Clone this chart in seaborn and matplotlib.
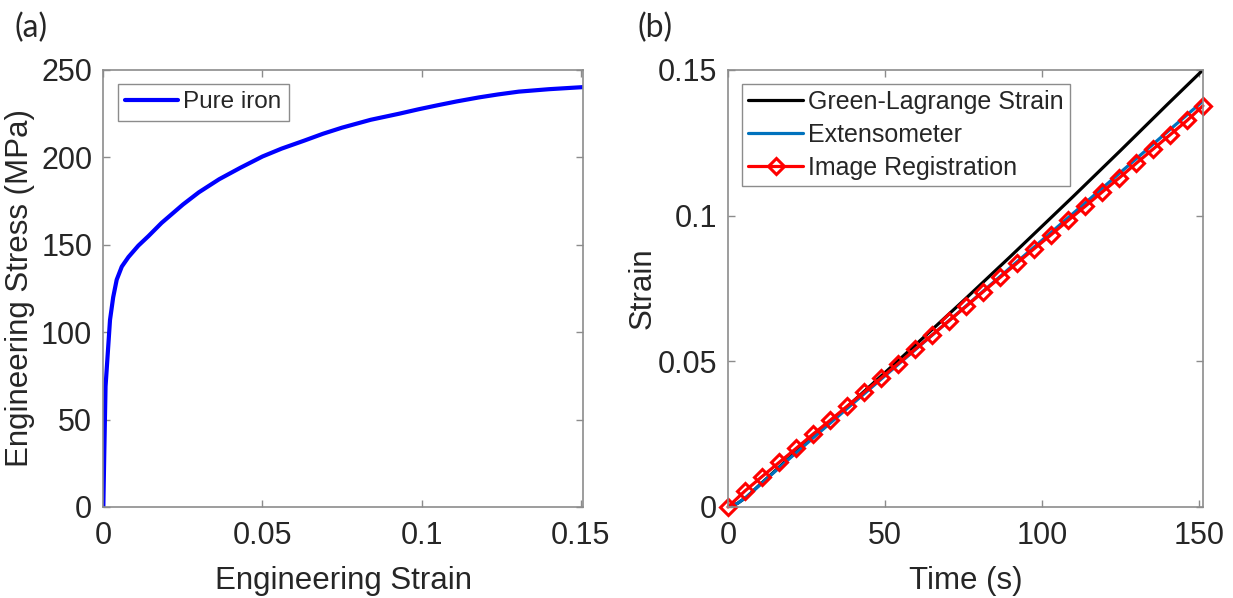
import numpy as np
import pandas as pd
import seaborn as sns
import matplotlib.pyplot as plt

# (a) engineering stress-strain curve of pure iron
eng_strain = [0, 0.0003, 0.0007, 0.0014, 0.0021, 0.0031, 0.0042, 0.0058, 0.0079, 0.011,
              0.0142, 0.0183, 0.025, 0.030, 0.0364, 0.043, 0.050, 0.056, 0.063, 0.069,
              0.075, 0.084, 0.093, 0.099, 0.105, 0.111, 0.118, 0.124, 0.1305, 0.140, 0.1508]
eng_stress = [0, 31, 69, 88, 107, 120, 130, 137.5, 143, 149.5,
              155, 162.5, 173, 180, 187.5, 194, 200.5, 205, 209.5, 213.5,
              217, 221.5, 225, 227.5, 229.8, 232, 234.3, 236, 237.6, 239, 240.2]

# (b) strain vs time
time_ext = [0, 3, 6, 10, 15, 20, 30, 40, 50, 60, 75, 90, 100, 110, 125, 140, 151.3]
extenso = [0, 0.0012, 0.0035, 0.0074, 0.0122, 0.0170, 0.0264, 0.0357, 0.0450, 0.0543,
           0.0682, 0.0822, 0.0915, 0.1008, 0.1148, 0.1288, 0.1393]
green_lag = [0, 0.0012, 0.0035, 0.0075, 0.0124, 0.0173, 0.0268, 0.0364, 0.0461, 0.0559,
             0.0708, 0.0860, 0.0963, 0.1066, 0.1223, 0.1382, 0.1500]

time_img = [0, 5.4, 10.8, 16.3, 21.7, 27.1, 32.5, 37.9, 43.4, 48.8, 54.2, 59.6, 65.0, 70.5,
            75.9, 81.3, 86.7, 92.1, 97.6, 103.0, 108.4, 113.8, 119.2, 124.7, 130.1, 135.5,
            140.9, 146.3, 151.3]
img_reg = [0, 0.0055, 0.0104, 0.0153, 0.0201, 0.0250, 0.0297, 0.0345, 0.0394, 0.0443,
           0.0492, 0.0541, 0.0590, 0.0640, 0.0689, 0.0739, 0.0788, 0.0837, 0.0887, 0.0935,
           0.0984, 0.1032, 0.1081, 0.1130, 0.1180, 0.1229, 0.1278, 0.1327, 0.1377]

xticks_a = [0, 0.05, 0.1, 0.15]
xticklabels_a = ['0', '0.05', '0.1', '0.15']
yticks_a = [0, 50, 100, 150, 200, 250]
xticks_b = [0, 50, 100, 150]
yticks_b = [0, 0.05, 0.1, 0.15]
yticklabels_b = ['0', '0.05', '0.1', '0.15']

sns.set_theme(style="ticks")
plt.rcParams['font.family'] = ['Liberation Sans', 'DejaVu Sans']

fig = plt.figure(figsize=(12.33, 5.98), dpi=100)
ax1 = fig.add_axes([0.0838, 0.1522, 0.3893, 0.7308])
ax2 = fig.add_axes([0.5904, 0.1522, 0.3852, 0.7308])

sns.lineplot(x=eng_strain, y=eng_stress, ax=ax1, color='#0000FF', lw=3,
             sort=False, estimator=None, label='Pure iron')

sns.lineplot(x=time_ext, y=green_lag, ax=ax2, color='black', lw=2.3,
             sort=False, estimator=None, label='Green-Lagrange Strain')
sns.lineplot(x=time_ext, y=extenso, ax=ax2, color='#0072BD', lw=2.3,
             sort=False, estimator=None, label='Extensometer')
sns.lineplot(x=time_img, y=img_reg, ax=ax2, color='red', lw=2.3, marker='D',
             markersize=8.5, markerfacecolor='none', markeredgecolor='red',
             markeredgewidth=2.2, sort=False, estimator=None, label='Image Registration',
             clip_on=False)

ax1.set_xlim(0, 0.1508)
ax1.set_ylim(0, 250)
ax1.set_xticks(xticks_a)
ax1.set_xticklabels(xticklabels_a)
ax1.set_yticks(yticks_a)
ax1.set_xlabel('Engineering Strain', fontsize=22.5, color='#262626', labelpad=11)
ax1.set_ylabel('Engineering Stress (MPa)', fontsize=22.5, color='#262626', labelpad=4)

ax2.set_xlim(0, 151.3)
ax2.set_ylim(0, 0.15)
ax2.set_xticks(xticks_b)
ax2.set_yticks(yticks_b)
ax2.set_yticklabels(yticklabels_b)
ax2.set_xlabel('Time (s)', fontsize=22.5, color='#262626', labelpad=11)
ax2.set_ylabel('Strain', fontsize=22.5, color='#262626', labelpad=0)

for ax in (ax1, ax2):
    for s in ax.spines.values():
        s.set_visible(True)
        s.set_color('#8c8c8c')
        s.set_linewidth(1.2)
    ax.tick_params(direction='in', length=5, width=1, color='#8c8c8c',
                   labelsize=22, labelcolor='#262626', top=True, right=True)
    ax.tick_params(axis='x', pad=10)
    ax.tick_params(axis='y', pad=8)

leg1 = ax1.legend(loc='upper left', bbox_to_anchor=(0.03, 0.968), fontsize=17.5,
                  frameon=True, fancybox=False, framealpha=1, edgecolor='#8c8c8c',
                  handlelength=2.2, handletextpad=0.2, borderpad=0.3, borderaxespad=0)
leg2 = ax2.legend(loc='upper left', bbox_to_anchor=(0.03, 0.968), fontsize=18,
                  frameon=True, fancybox=False, framealpha=1, edgecolor='#8c8c8c',
                  handlelength=2.2, handletextpad=0.2, borderpad=0.25, labelspacing=0.35,
                  borderaxespad=0)
for leg in (leg1, leg2):
    leg.get_frame().set_linewidth(1.0)

fig.text(0.012, 0.978, '(a)', fontsize=23, va='top', family=['Lato', 'DejaVu Sans'])
fig.text(0.517, 0.978, '(b)', fontsize=23, va='top', family=['Lato', 'DejaVu Sans'])

fig.savefig('out.png', dpi=100)
